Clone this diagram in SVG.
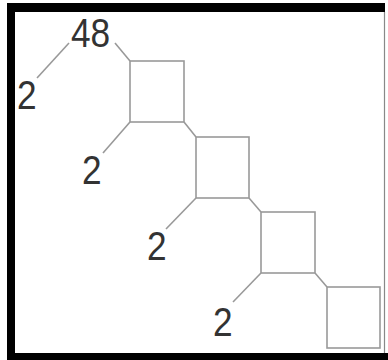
<svg xmlns="http://www.w3.org/2000/svg" width="388" height="360" viewBox="0 0 388 360">
<style>
.box{fill:#fff;stroke:#999;stroke-width:1.6}
.ln{stroke:#999;stroke-width:1.6;fill:none}
.lbl{font-family:"Liberation Sans",Arial,sans-serif;font-size:41px;fill:#333}
</style>
<rect width="388" height="360" fill="#fff"/>
<g id="frame">
<rect x="7" y="3" width="378" height="9" fill="#000"/>
<rect x="7" y="3" width="8" height="357" fill="#000"/>
<rect x="7" y="353" width="381" height="7" fill="#000"/>
<line x1="384.5" y1="12" x2="384.5" y2="353" stroke="#888" stroke-width="1.2"/>
</g>
<g id="connectors">
<line class="ln" x1="37" y1="78" x2="69" y2="43"/>
<line class="ln" x1="115" y1="43" x2="130" y2="61"/>
<line class="ln" x1="130" y1="122" x2="103" y2="153"/>
<line class="ln" x1="184" y1="122" x2="196" y2="137"/>
<line class="ln" x1="196" y1="198" x2="166" y2="229"/>
<line class="ln" x1="249" y1="198" x2="261" y2="212"/>
<line class="ln" x1="261" y1="273" x2="233" y2="302"/>
<line class="ln" x1="315" y1="273" x2="327" y2="287"/>
</g>
<g id="sq1"><rect class="box" x="130" y="61" width="54" height="61"/></g>
<g id="sq2"><rect class="box" x="196" y="137" width="53" height="61"/></g>
<g id="sq3"><rect class="box" x="261" y="212" width="54" height="61"/></g>
<g id="sq4"><rect class="box" x="327" y="287" width="53" height="61"/></g>
<g id="l48"><text class="lbl" transform="translate(71 47) scale(0.86 1)">48</text></g>
<g id="l2a"><text class="lbl" transform="translate(17 109) scale(0.86 1)">2</text></g>
<g id="l2b"><text class="lbl" transform="translate(82 184) scale(0.86 1)">2</text></g>
<g id="l2c"><text class="lbl" transform="translate(147 260) scale(0.86 1)">2</text></g>
<g id="l2d"><text class="lbl" transform="translate(213 336) scale(0.86 1)">2</text></g>
</svg>
